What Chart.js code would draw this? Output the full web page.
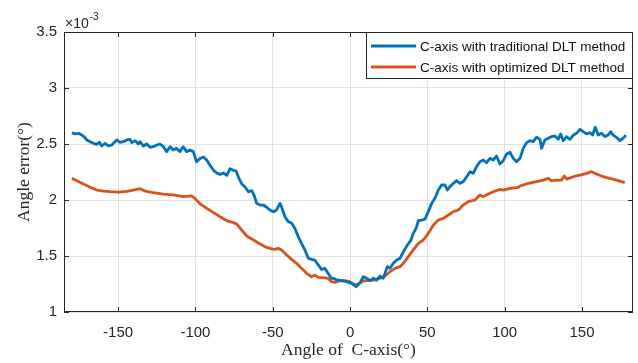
<!DOCTYPE html>
<html><head><meta charset="utf-8">
<script src="https://cdn.jsdelivr.net/npm/chart.js@4/dist/chart.umd.min.js"></script>
<style>html,body{margin:0;padding:0;background:#fff}#wrap{width:638px;height:363px}</style>
</head><body><div id="wrap"><canvas id="c" width="638" height="363"></canvas></div>
<script>
// Angle of C-axis (deg) and angle error (x 10^-3 deg)
const blueX = [-179.9,-177.8,-175.6,-173.5,-172.0,-170.2,-168.1,-165.9,-163.8,-162.1,-160.6,-158.4,-156.3,-154.1,-150.9,-148.7,-146.6,-144.4,-142.3,-141.2,-139.0,-136.9,-135.8,-133.6,-131.5,-129.3,-127.2,-125.0,-122.9,-120.7,-118.6,-116.4,-114.3,-112.2,-110.0,-107.9,-105.7,-103.6,-101.4,-99.3,-97.0,-94.8,-92.6,-90.5,-88.3,-86.2,-84.0,-81.9,-79.7,-77.6,-75.4,-73.7,-72.2,-70.1,-67.9,-65.8,-63.6,-62.1,-60.4,-58.2,-56.1,-53.9,-51.8,-49.6,-47.5,-45.3,-44.3,-42.1,-40.0,-37.8,-35.7,-33.5,-31.4,-29.2,-27.0,-24.9,-22.8,-20.6,-18.5,-16.3,-14.2,-12.0,-10.8,-8.6,-5.4,-2.2,1.1,3.9,6.5,8.6,10.8,12.9,15.1,17.2,19.4,21.5,24.1,25.8,28.0,30.2,32.3,34.5,37.1,39.2,40.9,42.7,44.2,46.3,48.5,50.6,52.8,54.9,57.1,59.2,61.4,62.9,64.6,66.8,68.9,71.1,73.2,75.4,77.6,79.7,81.8,84.0,86.2,88.3,90.5,92.6,94.8,96.9,99.1,101.3,103.4,105.6,107.7,109.9,112.0,114.2,116.3,118.5,120.6,122.8,123.9,126.0,128.2,130.4,132.5,134.7,136.2,137.9,140.0,142.2,144.4,146.5,148.7,150.8,153.0,155.1,156.9,158.6,160.5,162.7,164.8,167.0,168.5,170.2,172.3,174.5,176.6,178.4];
const blueY = [2.60,2.59,2.595,2.58,2.565,2.536,2.521,2.506,2.497,2.515,2.482,2.506,2.482,2.491,2.536,2.515,2.521,2.536,2.542,2.512,2.53,2.50,2.521,2.482,2.50,2.47,2.476,2.491,2.50,2.476,2.432,2.476,2.446,2.461,2.432,2.476,2.432,2.446,2.432,2.342,2.37,2.384,2.354,2.309,2.265,2.241,2.229,2.241,2.22,2.28,2.265,2.259,2.205,2.146,2.116,2.074,2.083,2.044,1.97,1.955,1.955,1.935,1.911,1.896,1.911,1.97,1.94,1.851,1.807,1.792,1.747,1.673,1.613,1.554,1.48,1.47,1.464,1.42,1.381,1.39,1.345,1.301,1.301,1.286,1.28,1.271,1.256,1.226,1.262,1.315,1.301,1.28,1.301,1.286,1.321,1.301,1.405,1.39,1.435,1.464,1.479,1.539,1.598,1.637,1.702,1.747,1.815,1.821,1.83,1.896,1.97,2.015,2.089,2.134,2.134,2.089,2.119,2.149,2.173,2.149,2.164,2.208,2.253,2.238,2.298,2.342,2.357,2.333,2.372,2.357,2.393,2.321,2.351,2.411,2.426,2.372,2.342,2.372,2.461,2.512,2.53,2.521,2.56,2.542,2.461,2.536,2.551,2.566,2.572,2.542,2.59,2.53,2.566,2.542,2.58,2.595,2.631,2.61,2.59,2.601,2.58,2.649,2.58,2.595,2.566,2.58,2.61,2.58,2.56,2.53,2.551,2.58];
const orangeX = [-179.9,-176.7,-172.4,-168.1,-163.8,-159.5,-155.2,-149.8,-144.4,-140.2,-135.8,-132.6,-127.2,-120.7,-114.3,-107.9,-102.5,-100.3,-97.0,-92.6,-88.3,-84.0,-79.7,-75.4,-73.3,-70.1,-66.8,-62.5,-58.2,-53.9,-50.7,-48.5,-46.4,-44.3,-41.0,-37.8,-34.6,-31.4,-28.1,-24.9,-22.8,-20.6,-17.4,-14.2,-12.0,-9.9,-6.6,-3.4,-0.2,2.2,4.3,6.5,8.6,10.8,12.9,16.2,19.4,22.6,25.8,29.1,32.3,34.5,37.7,40.9,44.2,47.4,50.6,53.9,57.1,60.3,63.6,66.8,70.0,73.2,76.5,80.8,84.0,86.2,89.4,92.6,96.9,99.1,103.4,108.8,109.9,115.3,120.6,124.9,128.2,130.4,133.6,136.9,138.6,140.1,144.4,148.7,153.0,156.2,159.4,163.7,168.0,172.3,177.7];
const orangeY = [2.193,2.172,2.143,2.113,2.089,2.08,2.074,2.071,2.077,2.089,2.101,2.08,2.065,2.053,2.045,2.03,2.036,2.015,1.965,1.925,1.887,1.851,1.815,1.798,1.786,1.732,1.679,1.643,1.607,1.577,1.563,1.56,1.568,1.554,1.509,1.47,1.435,1.39,1.345,1.315,1.33,1.309,1.306,1.301,1.271,1.265,1.277,1.28,1.271,1.25,1.241,1.262,1.277,1.28,1.28,1.286,1.301,1.321,1.36,1.39,1.405,1.435,1.494,1.554,1.613,1.643,1.702,1.777,1.821,1.836,1.866,1.896,1.911,1.955,1.985,2.0,2.045,2.03,2.054,2.074,2.095,2.089,2.104,2.113,2.125,2.149,2.164,2.178,2.193,2.17,2.178,2.178,2.214,2.187,2.208,2.223,2.238,2.253,2.232,2.208,2.193,2.178,2.155];
const xTicks = [-150,-100,-50,0,50,100,150];
const yTicks = [1,1.5,2,2.5,3,3.5];
const seriesLabels = ['C-axis with traditional DLT method','C-axis with optimized DLT method'];
const xTitle = 'Angle of  C-axis(°)';
const yTitle = 'Angle error(°)';
const expBase = '×10', expPow = '-3';

const AX = '#262626';
const sans = '"Liberation Sans", Arial, sans-serif';
const serif = '"Liberation Serif", "Times New Roman", serif';

const frame = {
  id: 'frame',
  afterDatasetsDraw(chart) {
    const {ctx, chartArea: a, scales} = chart;
    ctx.save();
    ctx.strokeStyle = AX; ctx.lineWidth = 1;
    ctx.strokeRect(a.left + 0.5, a.top + 0.5, a.right - a.left - 1, a.bottom - a.top - 1);
    const tl = 5;
    ctx.beginPath();
    xTicks.forEach(v => {
      const x = Math.round(scales.x.getPixelForValue(v)) + 0.5;
      ctx.moveTo(x, a.bottom); ctx.lineTo(x, a.bottom - tl);
      ctx.moveTo(x, a.top); ctx.lineTo(x, a.top + tl);
    });
    yTicks.forEach(v => {
      const y = Math.round(scales.y.getPixelForValue(v)) + 0.5;
      ctx.moveTo(a.left, y); ctx.lineTo(a.left + tl, y);
      ctx.moveTo(a.right, y); ctx.lineTo(a.right - tl, y);
    });
    ctx.stroke();
    // exponent label
    ctx.fillStyle = AX; ctx.textBaseline = 'alphabetic'; ctx.textAlign = 'left';
    ctx.font = '14px ' + sans;
    ctx.fillText(expBase, a.left + 1, 28);
    const w = ctx.measureText(expBase).width;
    ctx.font = '10px ' + sans;
    ctx.fillText(expPow, a.left + 1 + w + 1, 20);
    // legend
    const bx = 366, by = a.top, bw = a.right - bx, bh = 47;
    ctx.fillStyle = '#fff';
    ctx.fillRect(bx, by, bw, bh);
    ctx.strokeStyle = AX;
    ctx.strokeRect(bx + 0.5, by + 0.5, bw - 1, bh - 1);
    const rows = [by + 14, by + 35];
    chart.data.datasets.forEach((ds, i) => {
      ctx.strokeStyle = ds.borderColor; ctx.lineWidth = 3;
      ctx.beginPath(); ctx.moveTo(bx + 5, rows[i]); ctx.lineTo(bx + 50, rows[i]); ctx.stroke();
      ctx.fillStyle = '#111'; ctx.font = '13.5px ' + sans; ctx.textBaseline = 'middle';
      ctx.fillText(ds.label, bx + 54, rows[i] + 1);
    });
    ctx.restore();
  }
};

new Chart(document.getElementById('c'), {
  type: 'line',
  data: {
    datasets: [
      {label: seriesLabels[0], data: blueX.map((x, i) => ({x, y: blueY[i]})), borderColor: '#0072BD', borderWidth: 2.8, pointRadius: 0, tension: 0, borderJoinStyle: 'round', fill: false},
      {label: seriesLabels[1], data: orangeX.map((x, i) => ({x, y: orangeY[i]})), borderColor: '#D95319', borderWidth: 2.8, pointRadius: 0, tension: 0, borderJoinStyle: 'round', fill: false}
    ]
  },
  options: {
    responsive: false, animation: false, devicePixelRatio: 1,
    layout: {padding: {left: 0, right: 5, top: 32, bottom: 0}},
    plugins: {legend: {display: false}, tooltip: {enabled: false}},
    scales: {
      x: {
        type: 'linear', min: -185, max: 183,
        afterBuildTicks: s => { s.ticks = xTicks.map(v => ({value: v})); },
        afterFit: s => { s.height = 51; },
        grid: {color: '#e1e1e1', drawTicks: false},
        border: {display: false},
        ticks: {font: {size: 15, family: sans}, color: AX, padding: 12, maxRotation: 0, callback: v => String(v)},
        title: {display: true, text: xTitle, font: {size: 17.5, family: serif}, color: AX, padding: {top: 0, bottom: 2}}
      },
      y: {
        type: 'linear', min: 1, max: 3.5,
        afterBuildTicks: s => { s.ticks = yTicks.map(v => ({value: v})); },
        afterFit: s => { s.width = 64; },
        grid: {color: '#e1e1e1', drawTicks: false},
        border: {display: false},
        ticks: {font: {size: 15, family: sans}, color: AX, padding: 7, callback: v => String(v)},
        title: {display: true, text: yTitle, font: {size: 17.5, family: serif}, color: AX, padding: {top: 14, bottom: 0}}
      }
    }
  },
  plugins: [frame]
});
</script>
</body></html>
